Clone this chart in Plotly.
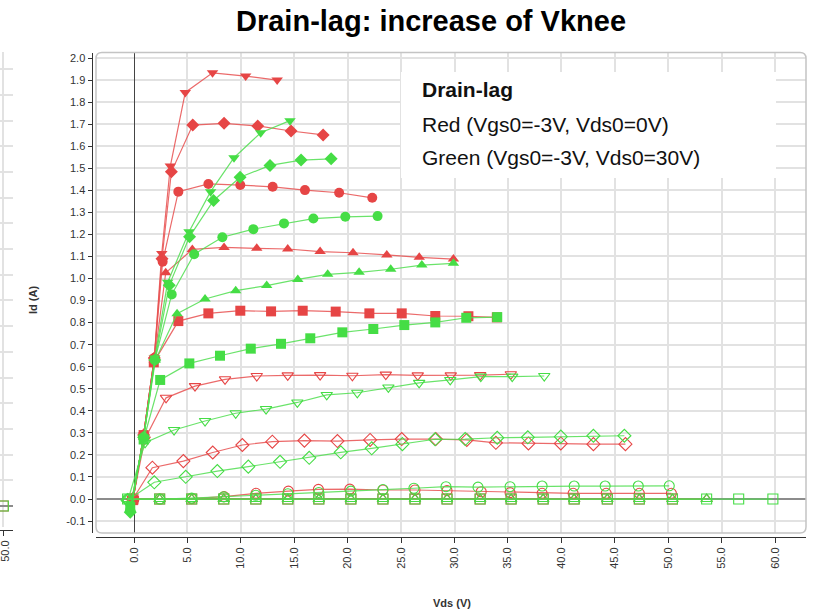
import plotly.graph_objects as go

# ---- measured drain current curves: Vds (V) and Id (A) ----
# Red family: Vgs0=-3V, Vds0=0V
R_TRIDN_V = [-0.1, 0.9, 1.9, 2.6, 3.4, 4.8, 7.35, 10.45, 13.4]
R_TRIDN_I = [-0.005, 0.29, 0.64, 1.114, 1.51, 1.844, 1.933, 1.918, 1.90]
R_DIAM_V = [-0.1, 0.9, 1.9, 2.62, 3.5, 5.5, 8.43, 11.58, 14.7, 17.7]
R_DIAM_I = [-0.005, 0.29, 0.64, 1.09, 1.484, 1.696, 1.704, 1.692, 1.669, 1.651]
R_CIRC_V = [-0.1, 0.9, 1.9, 2.68, 4.15, 6.96, 9.95, 12.98, 16.0, 19.2, 22.3]
R_CIRC_I = [-0.005, 0.29, 0.64, 1.076, 1.394, 1.429, 1.424, 1.416, 1.401, 1.389, 1.366]
R_TRIUP_V = [-0.1, 0.9, 1.9, 2.97, 5.46, 8.43, 11.49, 14.39, 17.42, 20.5, 23.66, 26.7, 29.9]
R_TRIUP_I = [-0.005, 0.29, 0.63, 1.026, 1.132, 1.141, 1.137, 1.134, 1.122, 1.117, 1.107, 1.096, 1.088]
R_SQ_V = [-0.1, 0.9, 1.85, 4.15, 6.96, 9.95, 12.83, 15.79, 18.88, 22.03, 25.06, 28.2, 31.3, 33.96]
R_SQ_I = [-0.005, 0.29, 0.62, 0.807, 0.842, 0.854, 0.851, 0.854, 0.850, 0.842, 0.842, 0.830, 0.829, 0.824]
R_TRIDN_O_V = [-0.1, 1.0, 3.0, 5.71, 8.52, 11.49, 14.39, 17.42, 20.44, 23.57, 26.56, 29.65, 32.4, 35.27]
R_TRIDN_O_I = [0.0, 0.27, 0.459, 0.512, 0.543, 0.558, 0.561, 0.562, 0.559, 0.564, 0.561, 0.561, 0.562, 0.566]
R_DIAM_O_V = [-0.1, 1.72, 4.62, 7.37, 10.14, 12.95, 15.95, 19.04, 22.1, 25.06, 28.25, 31.15, 33.87,
              36.92, 39.95, 43.0, 46.0]
R_DIAM_O_I = [0.0, 0.142, 0.172, 0.211, 0.245, 0.260, 0.265, 0.263, 0.268, 0.272, 0.272, 0.268, 0.255,
              0.252, 0.252, 0.249, 0.249]
R_CIRC_O_V = [-0.1, 2.43, 5.4, 8.43, 11.42, 14.45, 17.26, 20.2, 23.3, 26.3, 29.3, 32.5, 35.2, 38.2,
              41.1, 44.2, 47.3, 50.3]
R_CIRC_O_I = [0.0, 0.0, 0.002, 0.011, 0.026, 0.036, 0.044, 0.045, 0.041, 0.041, 0.038, 0.033, 0.029,
              0.026, 0.026, 0.026, 0.026, 0.026]
R_TRIUP_O_V = [-0.1, 2.4, 5.4, 8.4, 11.4, 14.4, 17.3, 20.3, 23.3, 26.3, 29.3, 32.4, 35.3, 38.3, 41.2,
               44.3, 47.3, 50.4, 53.6]
R_TRIUP_O_I = [0.0] * 19
R_SQ_O_V = [-0.1, 2.4, 5.4, 8.4, 11.4, 14.4, 17.3, 20.3, 23.3, 26.3, 29.3, 32.4, 35.3, 38.3, 41.2,
            44.3, 47.3, 50.4]
R_SQ_O_I = [0.0] * 18

# Green family: Vgs0=-3V, Vds0=30V
G_TRIDN_V = [-0.35, 0.9, 1.95, 3.15, 5.15, 7.17, 9.36, 11.86, 14.6]
G_TRIDN_I = [-0.065, 0.28, 0.64, 0.983, 1.212, 1.394, 1.548, 1.661, 1.716]
G_DIAM_V = [-0.35, 0.9, 1.95, 3.3, 5.2, 7.45, 9.93, 12.73, 15.64, 18.45]
G_DIAM_I = [-0.06, 0.28, 0.63, 0.97, 1.19, 1.354, 1.459, 1.513, 1.537, 1.543]
G_CIRC_V = [-0.35, 0.9, 1.95, 3.53, 5.63, 8.27, 11.17, 14.04, 16.79, 19.78, 22.8]
G_CIRC_I = [-0.05, 0.28, 0.63, 0.928, 1.110, 1.187, 1.224, 1.250, 1.272, 1.280, 1.283]
G_TRIUP_V = [-0.35, 0.9, 2.0, 4.03, 6.65, 9.52, 12.42, 15.33, 18.13, 21.07, 24.03, 26.94, 29.9]
G_TRIUP_I = [-0.045, 0.28, 0.63, 0.840, 0.907, 0.945, 0.968, 0.996, 1.019, 1.028, 1.042, 1.061, 1.069]
G_SQ_V = [-0.35, 0.9, 2.45, 5.18, 8.05, 10.93, 13.76, 16.5, 19.5, 22.4, 25.3, 28.2, 31.1, 34.0]
G_SQ_I = [-0.035, 0.27, 0.540, 0.615, 0.650, 0.682, 0.704, 0.729, 0.756, 0.771, 0.789, 0.801, 0.822, 0.825]
G_TRIDN_O_V = [-0.6, 1.03, 3.75, 6.65, 9.52, 12.36, 15.29, 18.04, 20.9, 23.81, 26.69, 29.6, 32.46,
               35.4, 38.4]
G_TRIDN_O_I = [-0.01, 0.255, 0.313, 0.354, 0.389, 0.408, 0.438, 0.472, 0.482, 0.506, 0.527, 0.540,
               0.555, 0.555, 0.558]
G_DIAM_O_V = [-0.6, 1.9, 4.84, 7.8, 10.7, 13.67, 16.4, 19.35, 22.25, 25.12, 28.18, 31.0, 34.0, 36.86,
              39.95, 43.0, 45.9]
G_DIAM_O_I = [-0.005, 0.076, 0.101, 0.127, 0.147, 0.169, 0.187, 0.212, 0.230, 0.249, 0.271, 0.272,
              0.278, 0.280, 0.283, 0.287, 0.287]
G_CIRC_O_V = [-0.6, 2.4, 5.4, 8.4, 11.4, 14.4, 17.3, 20.3, 23.3, 26.2, 29.2, 32.2, 35.2, 38.2, 41.2,
              44.1, 47.2, 50.1]
G_CIRC_O_I = [0.0, 0.0, 0.004, 0.010, 0.017, 0.024, 0.030, 0.036, 0.043, 0.049, 0.056, 0.054, 0.056,
              0.059, 0.059, 0.059, 0.059, 0.060]
G_TRIUP_O_V = [-0.6, 2.4, 5.4, 8.4, 11.4, 14.4, 17.3, 20.3, 23.3, 26.3, 29.3, 32.4, 35.3, 38.3, 41.2,
               44.3, 47.3, 50.4, 53.6]
G_TRIUP_O_I = [0.0] * 19
G_SQ_O_V = [-0.6, 2.4, 5.4, 8.4, 11.4, 14.4, 17.3, 20.3, 23.3, 26.3, 29.3, 32.4, 35.3, 38.3, 41.2,
            44.3, 47.3, 50.4, 53.6, 56.6, 59.8]
G_SQ_O_I = [0.0] * 21

# neighbouring panel (only its right edge is in view)
SIDE_V = [50.0]
SIDE_I = [0.0]

# tick labels
X_TICKS = [0, 5, 10, 15, 20, 25, 30, 35, 40, 45, 50, 55, 60]
X_TICK_TEXT = [f"{v:.1f}" for v in X_TICKS]
Y_TICKS = [round(-0.1 + 0.1 * k, 1) for k in range(22)]
Y_TICK_TEXT = [f"{v:.1f}" for v in Y_TICKS]

TITLE = "Drain-lag: increase of Vknee"
LEGEND_TITLE = "Drain-lag"
LEGEND_RED = "Red (Vgs0=-3V, Vds0=0V)"
LEGEND_GREEN = "Green (Vgs0=-3V, Vds0=30V)"

# ---- styling ----
W, H = 815, 610
FONT = "Liberation Sans, Arial, Helvetica, sans-serif"
RED, RED_LINE = "#E64545", "rgba(232,80,80,0.85)"
GREEN, GREEN_LINE = "#45DD45", "rgba(80,222,80,0.85)"


def px(x):
    return x / W


def py(y):
    return 1 - y / H


red_series = [
    (R_TRIDN_V, R_TRIDN_I, "triangle-down"),
    (R_DIAM_V, R_DIAM_I, "diamond"),
    (R_CIRC_V, R_CIRC_I, "circle"),
    (R_TRIUP_V, R_TRIUP_I, "triangle-up"),
    (R_SQ_V, R_SQ_I, "square"),
    (R_TRIDN_O_V, R_TRIDN_O_I, "triangle-down-open"),
    (R_DIAM_O_V, R_DIAM_O_I, "diamond-open"),
    (R_CIRC_O_V, R_CIRC_O_I, "circle-open"),
    (R_TRIUP_O_V, R_TRIUP_O_I, "triangle-up-open"),
    (R_SQ_O_V, R_SQ_O_I, "square-open"),
]
green_series = [
    (G_TRIDN_V, G_TRIDN_I, "triangle-down"),
    (G_DIAM_V, G_DIAM_I, "diamond"),
    (G_CIRC_V, G_CIRC_I, "circle"),
    (G_TRIUP_V, G_TRIUP_I, "triangle-up"),
    (G_SQ_V, G_SQ_I, "square"),
    (G_TRIDN_O_V, G_TRIDN_O_I, "triangle-down-open"),
    (G_DIAM_O_V, G_DIAM_O_I, "diamond-open"),
    (G_CIRC_O_V, G_CIRC_O_I, "circle-open"),
    (G_TRIUP_O_V, G_TRIUP_O_I, "triangle-up-open"),
    (G_SQ_O_V, G_SQ_O_I, "square-open"),
]

fig = go.Figure()


def add_curve(v, i, symbol, color, line_color, xaxis="x", yaxis="y"):
    is_open = symbol.endswith("open")
    fig.add_trace(go.Scatter(
        x=v, y=i, mode="lines+markers", xaxis=xaxis, yaxis=yaxis,
        line=dict(color=line_color, width=1.2),
        marker=dict(symbol=symbol, size=10,
                    color=color, line=dict(color=color, width=1.1 if is_open else 0)),
        showlegend=False, hoverinfo="x+y",
    ))


for v, i, s in red_series:
    add_curve(v, i, s, RED, RED_LINE)
for v, i, s in green_series:
    add_curve(v, i, s, GREEN, GREEN_LINE)

# right edge of the neighbouring panel
add_curve(SIDE_V, SIDE_I, "square-open", RED, RED_LINE, "x2", "y2")
add_curve(SIDE_V, SIDE_I, "square-open", GREEN, GREEN_LINE, "x2", "y2")

tick_font = dict(family=FONT, size=11, color="#333333")
grid = "#e2e2e2"

# plot box edges in pixels
BX0, BX1, BY0, BY1 = 96, 806, 52.5, 533

fig.update_layout(
    width=W, height=H,
    margin=dict(l=0, r=0, t=0, b=0, autoexpand=False),
    paper_bgcolor="white", plot_bgcolor="white",
    showlegend=False,
    xaxis=dict(
        domain=[px(BX0), px(BX1)], range=[-3.557, 62.9], automargin=False,
        anchor="free", position=py(537),
        tickvals=X_TICKS, ticktext=X_TICK_TEXT, tickangle=-90, tickfont=tick_font,
        ticks="outside", ticklen=5, tickcolor="#333", tickwidth=1,
        showline=True, linecolor="#333", linewidth=1,
        showgrid=True, gridcolor=grid, gridwidth=1.5,
        zeroline=True, zerolinecolor="#444444", zerolinewidth=1,
        fixedrange=True,
    ),
    yaxis=dict(
        domain=[py(BY1), py(BY0)], range=[-0.154, 2.025], automargin=False,
        anchor="free", position=px(91.5),
        tickvals=Y_TICKS, ticktext=Y_TICK_TEXT, tickfont=tick_font,
        ticks="outside", ticklen=4, tickcolor="#333", tickwidth=1,
        showline=True, linecolor="#333", linewidth=1,
        showgrid=True, gridcolor=grid, gridwidth=1.5,
        zeroline=True, zerolinecolor="#8c8c8c", zerolinewidth=1.5,
        fixedrange=True,
    ),
    xaxis2=dict(
        domain=[0, px(13)], range=[49.69, 50.91], automargin=False,
        anchor="free", position=py(530),
        tickvals=[50], ticktext=["50.0"], tickangle=-90, tickfont=tick_font,
        ticklabeloverflow="allow", ticklabelshift=2,
        ticks="outside", ticklen=5, tickcolor="#333",
        showline=True, linecolor="#333", linewidth=1,
        showgrid=True, gridcolor=grid, gridwidth=1.5, zeroline=False,
        fixedrange=True,
    ),
    yaxis2=dict(
        domain=[py(527), py(52)], range=[-0.0817, 1.767], anchor="x2", automargin=False,
        dtick=0.1, showticklabels=False, ticks="",
        showgrid=True, gridcolor=grid, gridwidth=1.5,
        zeroline=True, zerolinecolor="#8c8c8c", zerolinewidth=1.5,
        fixedrange=True,
    ),
)

# rounded frame around the plotting area
r = 6


def P(x, y):
    return f"{px(x):.5f},{py(y):.5f}"


frame = (f"M {P(BX0 + r, BY0)} L {P(BX1 - r, BY0)} Q {P(BX1, BY0)} {P(BX1, BY0 + r)} "
         f"L {P(BX1, BY1 - r)} Q {P(BX1, BY1)} {P(BX1 - r, BY1)} "
         f"L {P(BX0 + r, BY1)} Q {P(BX0, BY1)} {P(BX0, BY1 - r)} "
         f"L {P(BX0, BY0 + r)} Q {P(BX0, BY0)} {P(BX0 + r, BY0)} Z")
fig.add_shape(type="path", path=frame, xref="paper", yref="paper",
              line=dict(color="#c4c4c4", width=1.5), layer="above")

# legend panel
fig.add_shape(type="rect", xref="paper", yref="paper",
              x0=px(401), x1=px(776), y0=py(178), y1=py(72),
              fillcolor="white", line=dict(width=0), layer="above")

legend_font = dict(family=FONT, size=21, color="#111111")
for text, y in [(f"<b>{LEGEND_TITLE}</b>", 90), (LEGEND_RED, 124), (LEGEND_GREEN, 157)]:
    fig.add_annotation(text=text, xref="paper", yref="paper", x=px(420), y=py(y),
                       xanchor="left", yanchor="middle", showarrow=False, font=legend_font)

# title and axis titles
fig.add_annotation(text=f"<b>{TITLE}</b>", xref="paper", yref="paper", x=px(431), y=py(21),
                   xanchor="center", yanchor="middle", showarrow=False,
                   font=dict(family=FONT, size=29, color="black"))
fig.add_annotation(text="<b>Vds (V)</b>", xref="paper", yref="paper", x=px(452), y=py(603),
                   xanchor="center", yanchor="middle", showarrow=False,
                   font=dict(family=FONT, size=11, color="#333"))
fig.add_annotation(text="<b>Id (A)</b>", xref="paper", yref="paper", x=px(33), y=py(300),
                   xanchor="center", yanchor="middle", showarrow=False, textangle=-90,
                   font=dict(family=FONT, size=11, color="#333"))

fig.write_html("out.html")
